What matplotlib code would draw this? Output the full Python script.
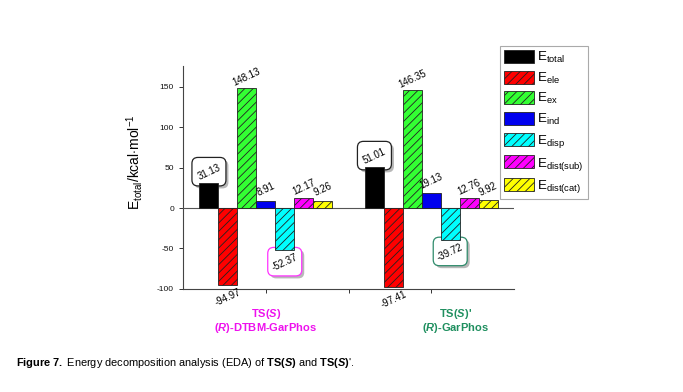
import numpy as np
import matplotlib
matplotlib.use("Agg")
from matplotlib import pyplot as plt
from matplotlib.patches import FancyBboxPatch
from matplotlib.transforms import ScaledTranslation

plt.rcParams['font.family'] = ['Liberation Sans', 'DejaVu Sans']
plt.rcParams['mathtext.fontset'] = 'custom'
plt.rcParams['mathtext.rm'] = 'Liberation Sans'
plt.rcParams['mathtext.it'] = 'Liberation Sans:italic'
plt.rcParams['mathtext.bf'] = 'Liberation Sans:bold'
plt.rcParams['mathtext.bfit'] = 'Liberation Sans:italic:bold'
plt.rcParams['axes.unicode_minus'] = False
plt.rcParams['hatch.linewidth'] = 0.6

# data
terms = [r"E$_\mathrm{total}$", r"E$_\mathrm{ele}$", r"E$_\mathrm{ex}$", r"E$_\mathrm{ind}$",
         r"E$_\mathrm{disp}$", r"E$_\mathrm{dist(sub)}$", r"E$_\mathrm{dist(cat)}$"]
ts_s = [31.13, -94.97, 148.13, 8.91, -52.37, 12.17, 9.26]
ts_s2 = [51.01, -97.41, 146.35, 19.13, -39.72, 12.76, 9.92]
group_pos = [1, 3]
colors = ['#000000', '#ff0000', '#33ff33', '#0000ee', '#00ffff', '#ff00ff', '#ffff00']
hatches = [None, '////', '////', None, '////', '////', '////']

# labels that sit in a rounded box: (group, bar index) -> edge colour
boxed = {(0, 0): '#222222', (1, 0): '#222222', (0, 4): '#ff33ff', (1, 4): '#2e8b6b'}

fig = plt.figure(figsize=(6.83, 3.92), dpi=100)
ax = fig.add_axes([0.268, 0.263, 0.4846, 0.569])

w = 0.229
for i in range(len(terms)):
    xs = [g + (i - 3) * w for g in group_pos]
    vals = [ts_s[i], ts_s2[i]]
    ax.bar(xs, vals, width=w, color=colors[i], edgecolor='#222222', linewidth=0.6,
           hatch=hatches[i], label=terms[i], zorder=3)
    for gi, (x, v) in enumerate(zip(xs, vals)):
        off = 8 if v > 0 else -9
        ax.annotate("%.2f" % v, (x, v), xytext=(0, off), textcoords='offset points',
                    ha='center', va='center', rotation=25, fontsize=7, zorder=6)
        if (gi, i) in boxed:
            # box stays upright, sized in inches around the bar end
            tr = fig.dpi_scale_trans + ScaledTranslation(x, v, ax.transData)
            y0 = -0.03 if v > 0 else -0.255
            for dx, dy, fc, ec, z in [(0.025, -0.025, '#b8b8b8', 'none', 2.4),
                                      (0, 0, 'white', boxed[(gi, i)], 2.5)]:
                ax.add_patch(FancyBboxPatch((-0.17 + dx, y0 + dy), 0.34, 0.285,
                                            boxstyle='round,pad=0,rounding_size=0.06',
                                            fc=fc, ec=ec, lw=0.9, transform=tr,
                                            zorder=z, clip_on=False))

ax.axhline(0, color='#555555', lw=0.8, zorder=2.6)
ax.set_xlim(0, 4)
ax.set_ylim(-100, 176)
ax.set_xticks([1, 2, 3])
ax.set_xticklabels([])
ax.set_yticks([-100, -50, 0, 50, 100, 150])
ax.tick_params(labelsize=6, length=3, width=0.7, colors='#333333', labelcolor='#111111')
for s in ['top', 'right']:
    ax.spines[s].set_visible(False)
for s in ['left', 'bottom']:
    ax.spines[s].set_linewidth(0.8)
    ax.spines[s].set_color('#444444')

ax.set_ylabel(r"E$_\mathrm{total}$/kcal$\cdot$mol$^{-1}$", fontsize=10)
ax.yaxis.set_label_coords(-0.115, 0.57)

# group labels
ax.text(1.0, -131, r"TS($\mathbfit{S}$)", ha='center', va='center', fontsize=8,
        fontweight='bold', color='#ee11ee')
ax.text(1.0, -148, r"($\mathbfit{R}$)-DTBM-GarPhos", ha='center', va='center', fontsize=8,
        fontweight='bold', color='#ee11ee')
ax.text(3.29, -131, r"TS($\mathbfit{S}$)'", ha='center', va='center', fontsize=8,
        fontweight='bold', color='#1f8f5f')
ax.text(3.29, -148, r"($\mathbfit{R}$)-GarPhos", ha='center', va='center', fontsize=8,
        fontweight='bold', color='#1f8f5f')

leg = fig.legend(loc='upper left', bbox_to_anchor=(0.732, 0.883), fontsize=9.6,
                 handlelength=2.25, handleheight=1.12, labelspacing=0.42, handletextpad=0.25,
                 borderpad=0.3, borderaxespad=0, fancybox=False, edgecolor='#aaaaaa',
                 framealpha=1)
leg.get_frame().set_linewidth(0.8)

fig.text(0.023, 0.074, r"$\mathbf{Figure\ 7.}$ Energy decomposition analysis (EDA) of "
         r"$\mathbf{TS(}\mathbfit{S}\mathbf{)}$ and $\mathbf{TS(}\mathbfit{S}\mathbf{)}$'.",
         fontsize=7.9, va='center')

fig.savefig("out.png", dpi=100)
